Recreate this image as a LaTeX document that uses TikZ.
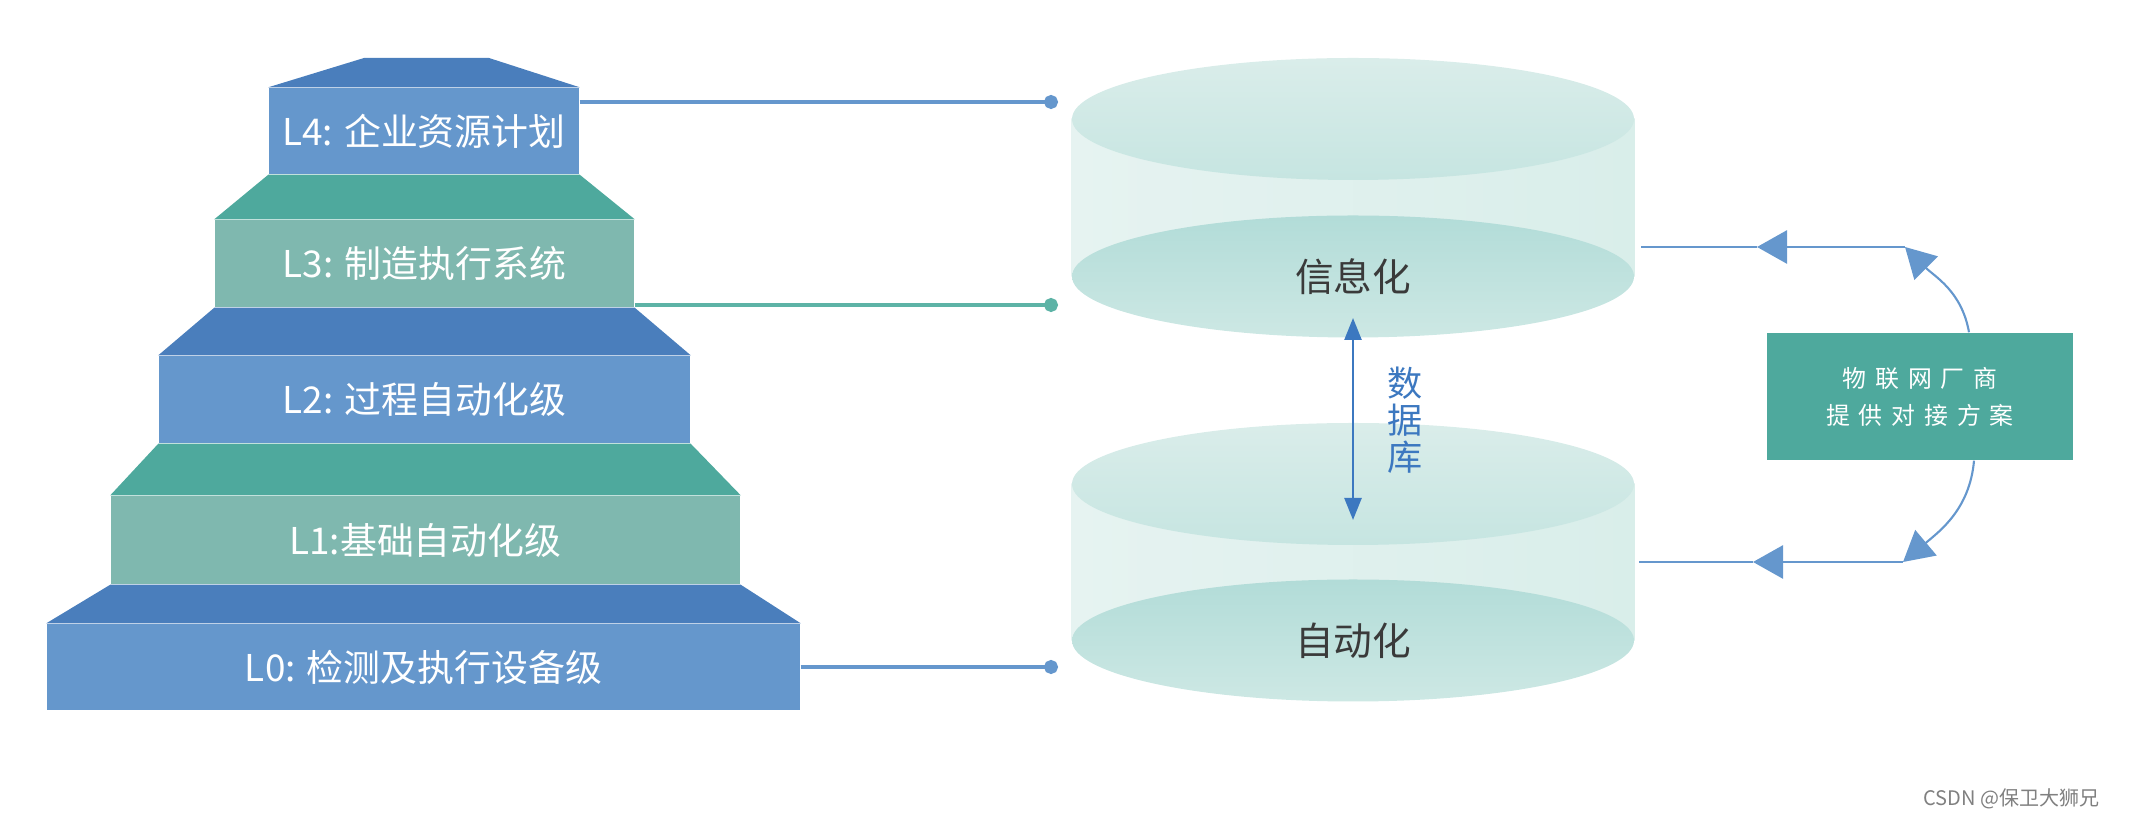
\documentclass[tikz,border=0pt]{standalone}
\usepackage{fontspec}
\setmainfont{Noto Sans CJK SC}
\newfontfamily\spaced[LetterSpace=37]{Noto Sans CJK SC}
\usetikzlibrary{arrows.meta,shapes.geometric,backgrounds}
\definecolor{blueA}{HTML}{4A7EBC}
\definecolor{blueB}{HTML}{6597CC}
\definecolor{tealA}{HTML}{4EA99D}
\definecolor{tealB}{HTML}{7FB8AF}
\definecolor{lineblue}{HTML}{6597CD}
\definecolor{lineteal}{HTML}{5DB3A6}
\definecolor{dbblue}{HTML}{3C78C0}
\definecolor{bodyA}{HTML}{E6F3F1}
\definecolor{bodyB}{HTML}{D9EEEA}
\definecolor{topA}{HTML}{DAEDEA}
\definecolor{topB}{HTML}{C6E5E1}
\definecolor{botA}{HTML}{B2DCD8}
\definecolor{botB}{HTML}{CDE8E4}
\definecolor{darktext}{HTML}{3A3A3A}
\begin{document}
\begin{tikzpicture}[line join=round, >=stealth,
  lvl/.style={rectangle, inner sep=0pt, text=white, font=\fontsize{10.5}{12}\selectfont},
  disk/.style={ellipse, inner sep=0pt, minimum width=5.62cm, minimum height=1.22cm, text=darktext, font=\fontsize{11}{13}\selectfont},
  link/.style={line width=0.9pt, -{Circle[length=1.4mm]}},
  feed/.style={draw=lineblue, line width=0.8pt},
  tip/.style={-{Triangle[length=3mm,width=3.3mm]}}]
\useasboundingbox (0,0) rectangle (21.30,-8.18);
% pyramid
\node[lvl, fill=blueB, minimum width=3.10cm, minimum height=0.86cm] (l4) at (4.24,-1.31) {L4: 企业资源计划};
\node[lvl, fill=tealB, minimum width=4.19cm, minimum height=0.87cm] (l3) at (4.245,-2.635) {L3: 制造执行系统};
\node[lvl, fill=blueB, minimum width=5.31cm, minimum height=0.87cm] (l2) at (4.245,-3.995) {L2: 过程自动化级};
\node[lvl, fill=tealB, minimum width=6.29cm, minimum height=0.88cm] (l1) at (4.255,-5.40) {L1:基础自动化级};
\node[lvl, fill=blueB, minimum width=7.53cm, minimum height=0.86cm] (l0) at (4.235,-6.67) {L0: 检测及执行设备级};
\fill[blueA] (l4.north west) -- (3.64,-0.58) -- (4.89,-0.58) -- (l4.north east) -- cycle;
\foreach \lo/\hi/\c in {l3/l4/tealA, l2/l3/blueA, l1/l2/tealA, l0/l1/blueA}
  \fill[\c] (\lo.north west) -- (\hi.south west) -- (\hi.south east) -- (\lo.north east) -- cycle;
\coordinate (d4) at (10.58,-1.02);
\coordinate (d3) at (10.58,-3.05);
\coordinate (d0) at (10.58,-6.67);
\draw[link, lineblue] (l4.east |- d4) -- (d4);
\draw[link, lineteal] (l3.east |- d3) -- (d3);
\draw[link, lineblue] (l0.east) -- (d0);
% databases
\node[disk, top color=topA, bottom color=topB] (infot) at (13.53,-1.19) {};
\node[disk, top color=botA, bottom color=botB] (info) at (13.53,-2.765) {信息化};
\node[disk, top color=topA, bottom color=topB] (autot) at (13.53,-4.84) {};
\node[disk, top color=botA, bottom color=botB] (auto) at (13.53,-6.405) {自动化};
\begin{scope}[on background layer]
\shade[left color=bodyA, right color=bodyB] (infot.west) rectangle (info.east);
\shade[left color=bodyA, right color=bodyB] (autot.west) rectangle (auto.east);
\end{scope}
\coordinate (a1) at (13.53,-3.18);
\coordinate (a2) at (13.53,-5.20);
\draw[dbblue, line width=0.7pt, {Triangle[length=2.2mm,width=1.7mm]}-{Triangle[length=2.2mm,width=1.7mm]}] (a1) -- (a2);
\node[text=dbblue, align=center, font=\fontsize{10}{10.5}\selectfont] (db) at (14.05,-4.20) {数\\据\\库};
% vendor
\node[fill=tealA, text=white, inner sep=0pt, minimum width=3.06cm, minimum height=1.27cm, align=center, font=\spaced\fontsize{6.8}{10.5}\selectfont] (iot) at (19.20,-3.965) {物联网厂商\\提供对接方案};
\coordinate (c1) at (19.05,-2.47);
\coordinate (m1) at (17.57,-2.47);
\coordinate (e1) at (16.41,-2.47);
\coordinate (c2) at (19.03,-5.62);
\coordinate (m2) at (17.53,-5.62);
\coordinate (e2) at (16.39,-5.62);
\draw[feed, line width=0.6pt, tip] ([xshift=4.9mm]iot.north) to[out=100, in=-45] (c1);
\draw[feed, tip] (c1) -- (m1);
\draw[feed] (m1) -- (e1);
\draw[feed, line width=0.6pt, tip] ([xshift=5.4mm]iot.south) to[out=-95, in=40] (c2);
\draw[feed, tip] (c2) -- (m2);
\draw[feed] (m2) -- (e2);
\node[text=gray, anchor=east, font=\fontsize{5.7}{7}\selectfont] (wm) at (21.12,-7.99) {CSDN @保卫大狮兄};
\end{tikzpicture}
\end{document}
